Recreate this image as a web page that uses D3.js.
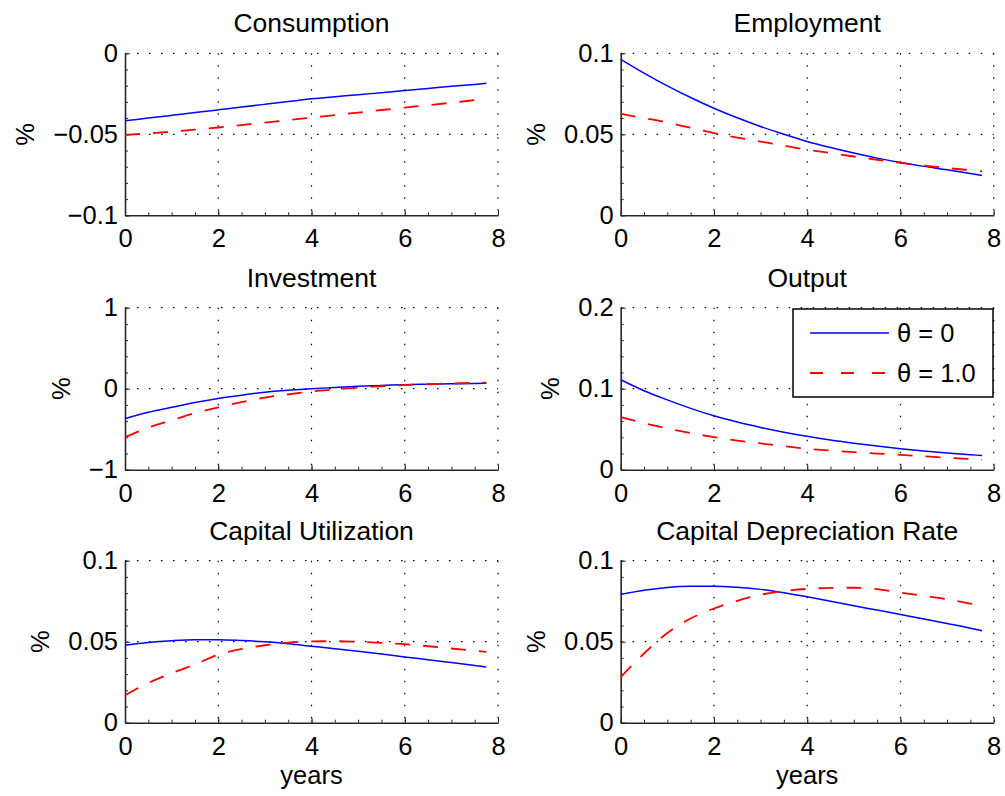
<!DOCTYPE html>
<html>
<head>
<meta charset="utf-8">
<script src="https://cdn.jsdelivr.net/npm/d3@7"></script>
<style>
  body { margin: 0; background: #fff; }
  text { font-family: "Liberation Sans", Arial, Helvetica, sans-serif; fill: #000; }
</style>
</head>
<body>
<svg id="chart" width="1005" height="796"></svg>
<script>

/* Data, x in years */
var years = [0, 0.5, 1, 1.5, 2, 2.5, 3, 3.5, 4, 4.5, 5, 5.5, 6, 6.5, 7, 7.5, 7.75];

var consumption0 = [-0.0417, -0.0400, -0.0383, -0.0366, -0.0349, -0.0332, -0.0315, -0.0298, -0.0281, -0.0268, -0.0256, -0.0243, -0.0230, -0.0217, -0.0204, -0.0192, -0.0185];
var consumption1 = [-0.0503, -0.0495, -0.0484, -0.0471, -0.0458, -0.0443, -0.0428, -0.0412, -0.0397, -0.0381, -0.0366, -0.0350, -0.0335, -0.0320, -0.0305, -0.0289, -0.0281];

var employment0 = [0.0963, 0.0878, 0.0799, 0.0727, 0.0661, 0.0602, 0.0548, 0.0500, 0.0456, 0.0418, 0.0384, 0.0353, 0.0326, 0.0302, 0.0281, 0.0258, 0.0246];
var employment1 = [0.0626, 0.0600, 0.0573, 0.0540, 0.0507, 0.0480, 0.0455, 0.0430, 0.0405, 0.0384, 0.0363, 0.0343, 0.0323, 0.0307, 0.0292, 0.0278, 0.0271];

var investment0 = [-0.37, -0.29, -0.23, -0.17, -0.12, -0.08, -0.045, -0.02, 0.0, 0.015, 0.03, 0.04, 0.05, 0.055, 0.06, 0.065, 0.068];
var investment1 = [-0.60, -0.48, -0.39, -0.30, -0.23, -0.165, -0.11, -0.07, -0.035, -0.01, 0.015, 0.03, 0.045, 0.055, 0.065, 0.072, 0.075];

var output0 = [0.111, 0.0975, 0.0862, 0.0757, 0.0665, 0.0588, 0.0522, 0.0463, 0.0412, 0.0367, 0.0328, 0.0292, 0.0260, 0.0232, 0.0207, 0.0185, 0.0175];
var output1 = [0.065, 0.0575, 0.0510, 0.0452, 0.0402, 0.0360, 0.0325, 0.0292, 0.0258, 0.0236, 0.0216, 0.0199, 0.0184, 0.0166, 0.0148, 0.0132, 0.0124];

var utilization0 = [0.0478, 0.0495, 0.0506, 0.0512, 0.0512, 0.0507, 0.0499, 0.0487, 0.0472, 0.0457, 0.0441, 0.0424, 0.0406, 0.0389, 0.0371, 0.0353, 0.0344];
var utilization1 = [0.0169, 0.0245, 0.0305, 0.0360, 0.0420, 0.0455, 0.0478, 0.0494, 0.0502, 0.0503, 0.0499, 0.0493, 0.0485, 0.0472, 0.0458, 0.0444, 0.0437];

var depreciation0 = [0.0792, 0.0818, 0.0835, 0.0842, 0.0843, 0.0836, 0.0823, 0.0802, 0.0777, 0.0750, 0.0722, 0.0695, 0.0668, 0.0640, 0.0612, 0.0583, 0.0567];
var depreciation1 = [0.0282, 0.0427, 0.0554, 0.0643, 0.0705, 0.0752, 0.0790, 0.0812, 0.0826, 0.0832, 0.0833, 0.0825, 0.0803, 0.0783, 0.0762, 0.0735, 0.0722];

var titles = ["Consumption", "Employment", "Investment", "Output", "Capital Utilization", "Capital Depreciation Rate"];
var yTicks = [[-0.1, -0.05, 0], [0, 0.05, 0.1], [-1, 0, 1], [0, 0.1, 0.2], [0, 0.05, 0.1], [0, 0.05, 0.1]];
var yTickLabels = [["\u22120.1", "\u22120.05", "0"], ["0", "0.05", "0.1"], ["\u22121", "0", "1"], ["0", "0.1", "0.2"], ["0", "0.05", "0.1"], ["0", "0.05", "0.1"]];
var xTicks = [0, 2, 4, 6, 8];
var legendLabels = ["\u03b8 = 0", "\u03b8 = 1.0"];

var series = [
  [consumption0, consumption1], [employment0, employment1],
  [investment0, investment1], [output0, output1],
  [utilization0, utilization1], [depreciation0, depreciation1]
];

/* Layout */
var colLeft = [125, 620.7];
var rowTop = [53.3, 307.7, 560.7];
var plotW = 373, plotH = 162;
var axisColor = "#262626";
var tickFont = 25.5;

var svg = d3.select("#chart");

function drawPanel(idx) {
  var col = idx % 2, row = Math.floor(idx / 2);
  var left = colLeft[col], top = rowTop[row];
  var ticks = yTicks[idx];

  var x = d3.scaleLinear().domain([0, 8]).range([left, left + plotW]);
  var y = d3.scaleLinear().domain([ticks[0], ticks[ticks.length - 1]]).range([top + plotH, top]);

  var g = svg.append("g");

  // dotted grid
  g.selectAll("line.gx").data(xTicks.slice(1)).enter().append("line")
    .attr("x1", d => x(d)).attr("x2", d => x(d))
    .attr("y1", top).attr("y2", top + plotH)
    .attr("stroke", "#000").attr("stroke-width", 1.2)
    .attr("stroke-dasharray", "1.5,10.5");
  g.selectAll("line.gy").data(ticks.slice(1)).enter().append("line")
    .attr("x1", left).attr("x2", left + plotW)
    .attr("y1", d => y(d)).attr("y2", d => y(d))
    .attr("stroke", "#000").attr("stroke-width", 1.2)
    .attr("stroke-dasharray", "1.5,10.5");

  // minor ticks
  var yStep = (ticks[1] - ticks[0]) / 5;
  var yMinor = d3.range(ticks[0], ticks[ticks.length - 1] + yStep / 2, yStep);
  g.append("g").attr("transform", "translate(0," + (top + plotH) + ")")
    .call(d3.axisBottom(x).tickValues(d3.range(0, 8.01, 0.5)).tickSizeInner(-3).tickSizeOuter(0).tickFormat(""))
    .call(a => a.select(".domain").remove())
    .selectAll("line").attr("stroke", axisColor);
  g.append("g").attr("transform", "translate(" + left + ",0)")
    .call(d3.axisLeft(y).tickValues(yMinor).tickSizeInner(-3).tickSizeOuter(0).tickFormat(""))
    .call(a => a.select(".domain").remove())
    .selectAll("line").attr("stroke", axisColor);

  // major axes
  var xa = g.append("g").attr("transform", "translate(0," + (top + plotH) + ")")
    .call(d3.axisBottom(x).tickValues(xTicks).tickSizeInner(-5).tickSizeOuter(0).tickPadding(14).tickFormat(d3.format("d")));
  var ya = g.append("g").attr("transform", "translate(" + left + ",0)")
    .call(d3.axisLeft(y).tickValues(ticks).tickSizeInner(-5).tickSizeOuter(0).tickPadding(7)
      .tickFormat((d, i) => yTickLabels[idx][i]));
  [xa, ya].forEach(function(a) {
    a.attr("font-size", null).attr("font-family", null);
    a.select(".domain").attr("stroke", axisColor).attr("stroke-width", 1.6);
    a.selectAll(".tick line").attr("stroke", axisColor);
    a.selectAll("text").attr("fill", "#000").style("font-size", tickFont + "px");
  });

  // series
  var line = d3.line().x((d, i) => x(years[i])).y(d => y(d)).curve(d3.curveMonotoneX);
  g.append("path").datum(series[idx][0]).attr("d", line)
    .attr("fill", "none").attr("stroke", "#0000ff").attr("stroke-width", 1.5);
  g.append("path").datum(series[idx][1]).attr("d", line)
    .attr("fill", "none").attr("stroke", "#ff0000").attr("stroke-width", 1.8)
    .attr("stroke-dasharray", "15,13");

  // title
  g.append("text").attr("x", left + plotW / 2).attr("y", top - 21)
    .attr("text-anchor", "middle").style("font-size", "26.5px").text(titles[idx]);

  // y label, placed left of the widest tick label
  var maxW = d3.max(ya.selectAll("text").nodes(), n => n.getComputedTextLength());
  var lx = left - 7 - maxW - 28;
  g.append("text").attr("transform", "translate(" + lx + "," + (top + plotH / 2) + ") rotate(-90)")
    .attr("text-anchor", "middle").attr("dominant-baseline", "central")
    .style("font-size", "25.5px").text("%");

  if (row === 2) {
    g.append("text").attr("x", left + plotW / 2).attr("y", top + plotH + 61)
      .attr("text-anchor", "middle").style("font-size", "25.5px").text("years");
  }

  if (idx === 3) {
    var lg = g.append("g");
    lg.append("rect").attr("x", 793).attr("y", 309).attr("width", 200).attr("height", 88)
      .attr("fill", "#fff").attr("stroke", "#000").attr("stroke-width", 1.5);
    var styles = [{ c: "#0000ff", w: 1.5, dash: null }, { c: "#ff0000", w: 1.8, dash: "13,18" }];
    legendLabels.forEach(function(lbl, i) {
      var ly = 333 + i * 40;
      lg.append("line").attr("x1", 810).attr("x2", 889).attr("y1", ly).attr("y2", ly)
        .attr("stroke", styles[i].c).attr("stroke-width", styles[i].w)
        .attr("stroke-dasharray", styles[i].dash);
      lg.append("text").attr("x", 897).attr("y", ly).attr("dominant-baseline", "central")
        .style("font-size", "25.5px").text(lbl);
    });
  }
}

for (var i = 0; i < 6; i++) drawPanel(i);

</script>
</body>
</html>
